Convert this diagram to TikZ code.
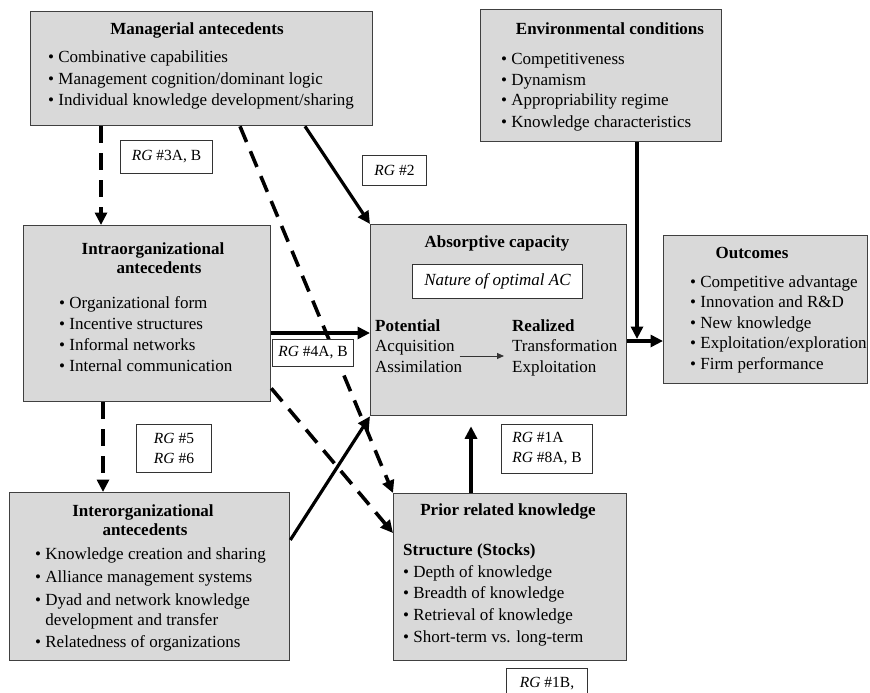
\documentclass[tikz,border=0pt]{standalone}
\usepackage{fontspec}
\setmainfont{Liberation Serif}
\usetikzlibrary{arrows.meta,calc}

\begin{document}
\begin{tikzpicture}[x=1pt,y=-1pt,
  box/.style={draw=black!75, line width=1.3pt, fill=black!15, inner sep=0pt, anchor=north west},
  tag/.style={draw=black!80, line width=1pt, fill=white, inner sep=0pt, anchor=north west,
              font=\fontsize{15.5}{20}\selectfont, align=left},
  ttl/.style={font=\fontsize{17}{21}\selectfont\bfseries, anchor=base, inner sep=0pt},
  itm/.style={font=\fontsize{17}{21}\selectfont, anchor=base west, inner sep=0pt},
  itmb/.style={itm, font=\fontsize{17}{21}\selectfont\bfseries},
  solidarrow/.style={line width=3.2pt, -{Triangle[length=12.5pt,width=12pt]}},
  dasharrow/.style={line width=3.6pt, dash pattern=on 17pt off 10pt, -{Triangle[length=12.5pt,width=12pt]}},
  thinarrow/.style={line width=1pt, draw=black!80, -{Triangle[length=7pt,width=6pt]}},
]
\useasboundingbox (0,0) rectangle (870,693);

% ---------- boxes ----------
\node[box, minimum width=342pt, minimum height=114pt] (mgr)   at (30,11)  {};
\node[box, minimum width=241pt, minimum height=132pt] (env)   at (480,9)  {};
\node[box, minimum width=247pt, minimum height=176pt] (intra) at (23,225) {};
\node[box, minimum width=256pt, minimum height=191pt] (abs)   at (370,224) {};
\node[box, minimum width=204pt, minimum height=148pt] (out)   at (663,235) {};
\node[box, minimum width=280pt, minimum height=168pt] (inter) at (9,492)  {};
\node[box, minimum width=233pt, minimum height=167pt] (prior) at (393,493) {};

% ---------- managerial antecedents ----------
\node[ttl] (mgr-t) at (197,35) {Managerial antecedents};
\foreach \t [count=\i] in {Combinative capabilities,
    Management cognition/dominant logic,
    Individual knowledge development/sharing}
  \node[itm] (mgr-\i) at (48,{63+(\i-1)*21.5}) {• \t};

% ---------- environmental conditions ----------
\node[ttl] (env-t) at (610,35) {Environmental conditions};
\foreach \t [count=\i] in {Competitiveness, Dynamism,
    Appropriability regime, Knowledge characteristics}
  \node[itm] (env-\i) at (501,{64+(\i-1)*21}) {• \t};

% ---------- intraorganizational antecedents ----------
\node[ttl] (intra-t1) at (153,254) {Intraorganizational};
\node[ttl] (intra-t2) at (159,273) {antecedents};
\foreach \t [count=\i] in {Organizational form, Incentive structures,
    Informal networks, Internal communication}
  \node[itm] (intra-\i) at (59,{308+(\i-1)*21.3}) {• \t};

% ---------- absorptive capacity ----------
\node[ttl] (abs-t) at (497,247) {Absorptive capacity};
\node[tag, minimum width=170pt, minimum height=34pt,
      font=\fontsize{17}{21}\selectfont\itshape] (nature) at (412,264) {Nature of optimal AC};
\node[itmb] (pot)  at (375,331) {Potential};
\node[itm]  (pot1) at (375,351) {Acquisition};
\node[itm]  (pot2) at (375,372) {Assimilation};
\node[itmb] (rea)  at (512,331) {Realized};
\node[itm]  (rea1) at (512,351) {Transformation};
\node[itm]  (rea2) at (512,372) {Exploitation};

% ---------- outcomes ----------
\node[ttl] (out-t) at (752,258) {Outcomes};
\foreach \t [count=\i] in {Competitive advantage, Innovation and R\&D,
    New knowledge, Exploitation/exploration, Firm performance}
  \node[itm] (out-\i) at (690,{287+(\i-1)*20.5}) {• \t};

% ---------- interorganizational antecedents ----------
\node[ttl] (inter-t1) at (143,516) {Interorganizational};
\node[ttl] (inter-t2) at (145,535) {antecedents};
\node[itm] (inter-1) at (35,559) {• Knowledge creation and sharing};
\node[itm] (inter-2) at (35,582) {• Alliance management systems};
\node[itm] (inter-3) at (35,605) {• Dyad and network knowledge};
\node[itm] (inter-4) at (35,625) {\phantom{•} development and transfer};
\node[itm] (inter-5) at (35,647) {• Relatedness of organizations};

% ---------- prior related knowledge ----------
\node[ttl]  (prior-t) at (508,515) {Prior related knowledge};
\node[itmb] (prior-s) at (403,555) {Structure (Stocks)};
\foreach \t [count=\i] in {Depth of knowledge, Breadth of knowledge,
    Retrieval of knowledge, Short-term vs. long-term}
  \node[itm] (prior-\i) at (403,{577+(\i-1)*21.7}) {• \t};

% ---------- connectors ----------
\coordinate (jn) at ($(out.north west)+(-26,104)$);
\draw[dasharrow] ($(mgr.south west)+(71,0)$) -- ($(intra.north west)+(78,0)$);
\draw[dasharrow] ($(mgr.south west)+(210,0)$) -- (prior.north west);
\draw[dasharrow] ($(intra.south west)+(80,0)$) -- ($(inter.north west)+(94,0)$);
\draw[dasharrow] ($(intra.south east)+(0,-14)$) -- ($(prior.north west)+(0,40)$);
\draw[solidarrow] ($(mgr.south west)+(275,0)$) -- (abs.north west);
\draw[solidarrow] ($(env.south west)+(157,0)$) -- (jn);
\draw[solidarrow] ($(abs.north east)+(0,117)$) -- ($(out.north west)+(0,106)$);
\draw[solidarrow] ($(intra.north east)+(0,108)$) -- ($(abs.north west)+(0,109)$);
\draw[solidarrow] ($(inter.north east)+(0,48)$) -- (abs.south west);
\draw[solidarrow] ($(prior.north west)+(78,0)$) -- ($(abs.south west)+(101,10)$);
\draw[thinarrow] ($(pot1.base east)+(5,5)$) -- ($(rea1.base west)+(-8,5)$);

% ---------- research-guide tags ----------
\node[tag, minimum width=92pt, minimum height=33pt] (rg3)  at (120,140) {\textit{RG} \#3A, B};
\node[tag, minimum width=64pt, minimum height=30pt] (rg2)  at (362,155) {\textit{RG} \#2};
\node[tag, minimum width=81pt, minimum height=27pt] (rg4)  at (272,339) {\textit{RG} \#4A, B};
\node[tag, minimum width=75pt, minimum height=48pt] (rg56) at (136,424) {\textit{RG} \#5\\\textit{RG} \#6};
\node[tag, minimum width=91pt, minimum height=49pt] (rg18) at (501,424) {\textit{RG} \#1A\\\textit{RG} \#8A, B};
\node[tag, minimum width=81pt, minimum height=31pt] (rg1b) at (506,668) {\textit{RG} \#1B,};
\end{tikzpicture}
\end{document}
